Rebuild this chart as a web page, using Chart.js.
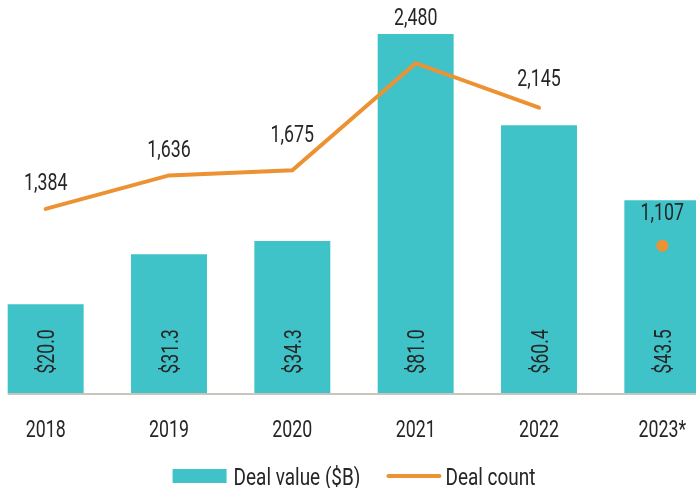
<!DOCTYPE html>
<html><head><meta charset="utf-8">
<script src="https://cdn.jsdelivr.net/npm/chart.js@4/dist/chart.umd.min.js"></script>
<style>
html,body{margin:0;padding:0;width:696px;height:488px;overflow:hidden;background:#fff;}
#wrap{position:absolute;left:-16px;top:-6px;}
</style></head><body>
<div id="wrap"><canvas id="c" width="740" height="503"></canvas></div>
<script>
const years = ['2018', '2019', '2020', '2021', '2022', '2023*'];
const dealValue = [20.0, 31.3, 34.3, 81.0, 60.4, 43.5];
const dealCount = [1384, 1636, 1675, 2480, 2145, 1107];
const valueAxisMax = 90;
const countAxisMax = 3000;
const countLabelLift = [19, 18, 28, 38, 22, 26];

const TEAL = '#40C3C8';
const ORANGE = '#EC9233';
const TEXT = '#262626';
const FONT = '400 24px Roboto, "Liberation Sans", sans-serif';
const SX = 0.74;
const SX_LEGEND = 0.79;

function condensedText(ctx, t, x, y, align, sx) {
  ctx.save();
  ctx.translate(x, y);
  ctx.scale(sx || SX, 1);
  ctx.textAlign = align || 'center';
  ctx.textBaseline = 'alphabetic';
  ctx.fillText(t, 0, 0);
  ctx.restore();
}

const labelPlugin = {
  id: 'labels',
  afterDatasetsDraw(chart) {
    const ctx = chart.ctx;
    const area = chart.chartArea;
    const bottom = area.bottom;
    const bars = chart.getDatasetMeta(0).data;
    const pts = chart.getDatasetMeta(1).data;
    const xs = chart.scales.x;
    ctx.save();
    // category axis line
    ctx.strokeStyle = '#c9c5bd';
    ctx.lineWidth = 2;
    ctx.beginPath();
    ctx.moveTo(bars[0].x - bars[0].width / 2, bottom + 1);
    ctx.lineTo(area.right, bottom + 1);
    ctx.stroke();
    ctx.font = FONT;
    ctx.fillStyle = TEXT;
    const dh = 17;
    // bar value labels (rotated)
    bars.forEach((b, i) => {
      ctx.save();
      ctx.translate(b.x, bottom - 41.5);
      ctx.rotate(-Math.PI / 2);
      condensedText(ctx, '$' + dealValue[i].toFixed(1), 0, dh / 2, 'center');
      ctx.restore();
    });
    // deal count labels
    pts.forEach((p, i) => {
      condensedText(ctx, dealCount[i].toLocaleString('en-US'), p.x, p.y - countLabelLift[i], 'center');
    });
    // category labels
    years.forEach((y, i) => {
      condensedText(ctx, y, xs.getPixelForTick(i), bottom + 44, 'center');
    });
    // legend
    const t1 = 'Deal value ($B)', t2 = 'Deal count';
    const w1 = ctx.measureText(t1).width * SX_LEGEND, w2 = ctx.measureText(t2).width * SX_LEGEND;
    const boxW = 54, lineW = 55, gap1 = 7, gap2 = 4, itemGap = 26;
    const total = boxW + gap1 + w1 + itemGap + lineW + gap2 + w2;
    let lx = chart.width / 2 - total / 2;
    const ly = bottom + 83;
    ctx.fillStyle = TEAL;
    ctx.fillRect(lx, ly - 7, boxW, 14);
    lx += boxW + gap1;
    ctx.fillStyle = TEXT;
    condensedText(ctx, t1, lx, ly + 8.5, 'left', SX_LEGEND);
    lx += w1 + itemGap;
    ctx.strokeStyle = ORANGE;
    ctx.lineWidth = 4;
    ctx.lineCap = 'round';
    ctx.beginPath();
    ctx.moveTo(lx + 2, ly);
    ctx.lineTo(lx + lineW - 2, ly);
    ctx.stroke();
    lx += lineW + gap2;
    condensedText(ctx, t2, lx, ly + 8.5, 'left', SX_LEGEND);
    ctx.restore();
  }
};

new Chart(document.getElementById('c'), {
  type: 'bar',
  data: {
    labels: years,
    datasets: [
      {
        type: 'bar',
        label: 'Deal value ($B)',
        data: dealValue,
        backgroundColor: TEAL,
        borderWidth: 0,
        barPercentage: 0.616,
        categoryPercentage: 1,
        yAxisID: 'y',
        order: 2
      },
      {
        type: 'line',
        label: 'Deal count',
        data: dealCount,
        borderColor: ORANGE,
        backgroundColor: ORANGE,
        borderWidth: 4,
        borderCapStyle: 'round',
        tension: 0,
        pointRadius: [0, 0, 0, 0, 0, 6],
        pointBorderWidth: 0,
        pointBackgroundColor: ORANGE,
        segment: {
          borderColor: c => c.p1DataIndex === 5 ? 'rgba(0,0,0,0)' : ORANGE
        },
        yAxisID: 'y2',
        order: 1
      }
    ]
  },
  options: {
    responsive: false,
    animation: false,
    events: [],
    layout: { autoPadding: false, padding: { top: 0, left: 0, right: 0, bottom: 58 } },
    scales: {
      x: {
        grid: { display: false, drawTicks: false },
        border: { display: false },
        ticks: { display: false },
        afterFit(s) { s.height = 46; }
      },
      y: { display: false, min: 0, max: valueAxisMax },
      y2: { display: false, min: 0, max: countAxisMax }
    },
    plugins: {
      tooltip: { enabled: false },
      legend: { display: false }
    }
  },
  plugins: [labelPlugin]
});
</script>
</body></html>
